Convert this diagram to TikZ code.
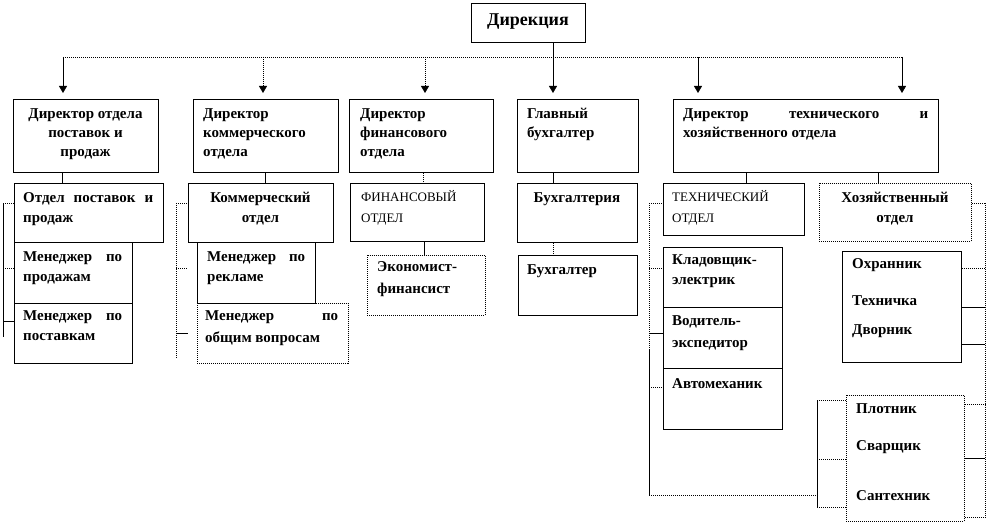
\documentclass[tikz,border=0pt]{standalone}
\usepackage{fontspec}
\setmainfont{Liberation Serif}
\usetikzlibrary{arrows.meta}
\tikzset{
  box/.style={draw, line width=0.8pt, inner sep=0pt, anchor=north west},
  dbox/.style={box, dash pattern=on 1pt off 1pt},
  lbl/.style={font=\bfseries\fontsize{15}{19}\selectfont, inner sep=0pt, anchor=base west, align=left},
  lblb/.style={lbl, font=\bfseries\fontsize{15}{20}\selectfont},
  clbl/.style={lbl, anchor=base, align=center},
  clblb/.style={lblb, anchor=base, align=center},
  rlbl/.style={font=\fontsize{13}{21}\selectfont, inner sep=0pt, anchor=base west, align=left},
  ln/.style={line width=0.8pt},
  dln/.style={line width=0.8pt, dash pattern=on 1pt off 1pt},
  arr/.style={-{Triangle[width=8pt,length=7pt]}, shorten >=6pt},
}
\newcommand\mkbox[6]{\node[#6, minimum width={#4pt-#2pt}, minimum height={#5pt-#3pt}] (#1) at (#2,#3) {};}
\begin{document}
\begin{tikzpicture}[x=1pt,y=-1pt]
\useasboundingbox (0,0) rectangle (987,524);
% top
\mkbox{top}{471}{3}{585}{42}{box}
\node[lbl, anchor=base, font=\bfseries\fontsize{18}{20}\selectfont] (topT) at (528,26) {Дирекция};
% row 1
\mkbox{d1}{13}{99}{158}{172}{box}
\mkbox{d2}{193}{99}{338}{172}{box}
\mkbox{d3}{349}{99}{493}{172}{box}
\mkbox{d4}{517}{99}{638}{172}{box}
\mkbox{d5}{673}{99}{938}{172}{box}
\node[clbl] (d1T) at (85.5,156) {Директор отдела\\поставок и\\продаж};
\node[lbl] (d2T) at (203,156) {Директор\\коммерческого\\отдела};
\node[lbl] (d3T) at (360,156) {Директор\\финансового\\отдела};
\node[lbl] (d4T) at (527,137) {Главный\\бухгалтер};
\node[lbl] (d5T) at (683,137) {\hbox to 245pt{Директор\hfill технического\hfill и}\\хозяйственного отдела};
% top connectors
\coordinate (hl) at (63,57);
\coordinate (hr) at (902,57);
\draw[dln] (hl) -- (hr);
\draw[ln,arr] (hl) -- (hl |- d1.north);
\draw[dln,arr] (263,57) -- (263,0 |- d2.north);
\draw[dln,arr] (425,57) -- (425,0 |- d3.north);
\draw[ln,arr] (top.south -| 553,0) -- (553,0 |- d4.north);
\draw[ln,arr] (698,57) -- (698,0 |- d5.north);
\draw[ln,arr] (hr) -- (hr |- d5.north);
% row 2 boxes
\mkbox{o1}{14}{183}{163}{242}{box}
\mkbox{m1}{14}{242}{132}{303}{box}
\mkbox{m2}{14}{303}{132}{363}{box}
\mkbox{o2}{188}{183}{333}{242}{box}
\mkbox{m3}{197}{242}{315}{303}{box}
\mkbox{m4}{197}{303}{348}{363}{dbox}
\mkbox{o3}{350}{183}{484}{241}{box}
\mkbox{e1}{367}{255}{485}{315}{dbox}
\mkbox{o4}{517}{183}{637}{242}{box}
\mkbox{b1}{518}{255}{637}{315}{box}
\mkbox{o5}{663}{183}{804}{235}{box}
\mkbox{o6}{819}{183}{971}{241}{dbox}
\mkbox{t1}{663}{247}{782}{307}{box}
\mkbox{t2}{663}{307}{782}{368}{box}
\mkbox{t3}{663}{368}{782}{429}{box}
\mkbox{h1}{842}{251}{961}{362}{box}
\mkbox{h2}{846}{395}{964}{521}{dbox}
% row 2 texts
\node[lblb] (o1T) at (23,222) {\hbox to 130pt{Отдел\hfill поставок\hfill и}\\продаж};
\node[lblb] (m1T) at (23,281) {\hbox to 99pt{Менеджер\hfill по}\\продажам};
\node[lblb] (m2T) at (23,340) {\hbox to 99pt{Менеджер\hfill по}\\поставкам};
\node[clblb] (o2T) at (260.5,222) {Коммерческий\\отдел};
\node[lblb] (m3T) at (207,281) {\hbox to 98pt{Менеджер\hfill по}\\рекламе};
\node[lbl, font=\bfseries\fontsize{15}{22}\selectfont] (m4T) at (205,342) {\hbox to 133pt{Менеджер\hfill по}\\общим вопросам};
\node[rlbl] (o3T) at (361,222) {ФИНАНСОВЫЙ\\ОТДЕЛ};
\node[lbl, font=\bfseries\fontsize{15}{22}\selectfont] (e1T) at (377,293) {Экономист-\\финансист};
\node[clbl] (o4T) at (577,202) {Бухгалтерия};
\node[lbl] (b1T) at (527,274) {Бухгалтер};
\node[rlbl] (o5T) at (672,222) {ТЕХНИЧЕСКИЙ\\ОТДЕЛ};
\node[clblb] (o6T) at (895,222) {Хозяйственный\\отдел};
\node[lblb] (t1T) at (672,284) {Кладовщик-\\электрик};
\node[lbl, font=\bfseries\fontsize{15}{22}\selectfont] (t2T) at (672,347) {Водитель-\\экспедитор};
\node[lbl] (t3T) at (672,388) {Автомеханик};
\node[lbl] (h1a) at (852,268) {Охранник};
\node[lbl] (h1b) at (852,305) {Техничка};
\node[lbl] (h1c) at (852,334) {Дворник};
\node[lbl] (h2a) at (856,413) {Плотник};
\node[lbl] (h2b) at (856,450) {Сварщик};
\node[lbl] (h2c) at (856,500) {Сантехник};
% row1 -> row2 connectors
\draw[ln] (62,0 |- d1.south) -- (62,0 |- o1.north);
\draw[ln] (265,0 |- d2.south) -- (265,0 |- o2.north);
\draw[dln] (423,0 |- d3.south) -- (423,0 |- o3.north);
\draw[ln] (553,0 |- d4.south) -- (553,0 |- o4.north);
\draw[ln] (746,0 |- d5.south) -- (746,0 |- o5.north);
\draw[ln] (878,0 |- d5.south) -- (878,0 |- o6.north);
\draw[ln] (424,0 |- o3.south) -- (424,0 |- e1.north);
\draw[dln] (553,0 |- o4.south) -- (553,0 |- b1.north);
% bracket A
\coordinate (a1) at (3,203); \coordinate (a2) at (3,337);
\draw[ln] (a1) -- (a2);
\draw[dln] (a1) -- (o1.west |- a1);
\draw[dln] (3,268) -- (m1.west |- 0,268);
\draw[ln] (3,321) -- (m2.west |- 0,321);
% bracket B
\coordinate (b1a) at (176,203); \coordinate (b1b) at (176,358);
\draw[dln] (b1a) -- (b1b);
\draw[dln] (b1a) -- (o2.west |- b1a);
\draw[dln] (176,268) -- (o2.west |- 0,268);
\draw[ln] (176,333) -- (o2.west |- 0,333);
% bracket C (technical)
\coordinate (c1) at (649,203); \coordinate (c2) at (649,350); \coordinate (c3) at (649,495); \coordinate (c4) at (817,495);
\draw[dln] (c1) -- (c2);
\draw[ln] (c2) -- (c3);
\draw[dln] (c3) -- (c4);
\draw[dln] (c1) -- (o5.west |- c1);
\draw[dln] (649,268) -- (t1.west |- 0,268);
\draw[ln] (649,333) -- (t2.west |- 0,333);
\draw[dln] (649,387) -- (t3.west |- 0,387);
% bracket D
\coordinate (dd1) at (817,400); \coordinate (dd2) at (817,507);
\draw[ln] (dd1) -- (dd2);
\draw[dln] (dd1) -- (h2.west |- dd1);
\draw[dln] (817,459) -- (h2.west |- 0,459);
\draw[dln] (dd2) -- (h2.west |- dd2);
% bracket E (right)
\coordinate (ee1) at (985,203); \coordinate (ee2) at (985,517);
\draw[dln] (ee1) -- (ee2);
\draw[dln] (o6.east |- ee1) -- (ee1);
\draw[dln] (h1.east |- 0,268) -- (985,268);
\draw[ln] (h1.east |- 0,307) -- (985,307);
\draw[ln] (h1.east |- 0,344) -- (985,344);
\draw[dln] (h2.east |- 0,404) -- (985,404);
\draw[ln] (h2.east |- 0,458) -- (985,458);
\draw[dln] (h2.east |- 0,517) -- (985,517);
\end{tikzpicture}
\end{document}
